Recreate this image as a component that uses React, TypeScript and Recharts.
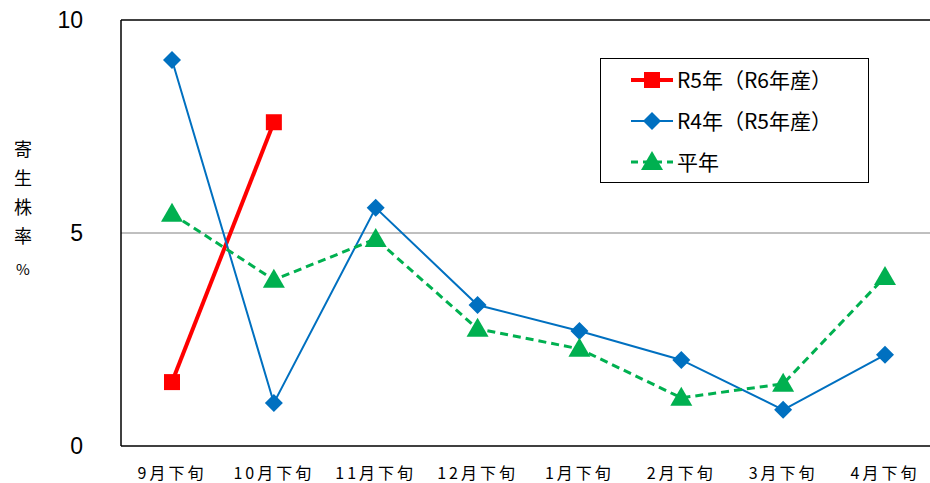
import React from "react";
import {
  LineChart, Line, XAxis, YAxis, ReferenceLine,
} from "recharts";

const categories = ["9月下旬", "10月下旬", "11月下旬", "12月下旬", "1月下旬", "2月下旬", "3月下旬", "4月下旬"];
const r5Values: (number | null)[] = [1.5, 7.6, null, null, null, null, null, null];
const r4Values = [9.06, 1.01, 5.59, 3.31, 2.7, 2.02, 0.85, 2.14];
const avgValues = [5.45, 3.9, 4.86, 2.75, 2.28, 1.13, 1.46, 3.97];
const yTicks = [0, 5, 10];

const RED = "#FF0000";
const BLUE = "#0070C0";
const GREEN = "#00B050";
const JP = "'Noto Sans CJK JP', sans-serif";
const NUM = "'Liberation Sans', Arial, sans-serif";

const data = categories.map((c, i) => ({
  cat: c,
  r5: r5Values[i],
  r4: r4Values[i],
  avg: avgValues[i],
}));

const Square = ({ cx, cy, value }: any) =>
  value == null || cx == null ? null : (
    <rect x={cx - 8} y={cy - 8} width={16} height={16} fill={RED} />
  );

const Diamond = ({ cx, cy, value }: any) =>
  value == null || cx == null ? null : (
    <polygon points={`${cx},${cy - 9} ${cx + 9},${cy} ${cx},${cy + 9} ${cx - 9},${cy}`} fill={BLUE} />
  );

const Triangle = ({ cx, cy, value }: any) =>
  value == null || cx == null ? null : (
    <polygon points={`${cx},${cy - 11} ${cx + 11},${cy + 8} ${cx - 11},${cy + 8}`} fill={GREEN} />
  );

const legendRows = [
  { label: "R5年（R6年産）", color: RED, width: 4, dash: undefined, mark: "square" },
  { label: "R4年（R5年産）", color: BLUE, width: 2, dash: undefined, mark: "diamond" },
  { label: "平年", color: GREEN, width: 3, dash: "7 5", mark: "triangle" },
];

const LegendBox = () => (
  <div
    style={{
      position: "absolute", left: 600, top: 58,
      width: 269, height: 125, boxSizing: "border-box", border: "1px solid #000",
      background: "#fff", padding: "0 0 0 28px",
    }}
  >
    {legendRows.map((r) => (
      <div key={r.label} style={{ display: "flex", alignItems: "center", height: 41 }}>
        <svg width={46} height={24}>
          <line x1={2} y1={12} x2={44} y2={12} stroke={r.color} strokeWidth={r.width} strokeDasharray={r.dash} />
          {r.mark === "square" && <rect x={15} y={4} width={16} height={16} fill={r.color} />}
          {r.mark === "diamond" && <polygon points="23,3 32,12 23,21 14,12" fill={r.color} />}
          {r.mark === "triangle" && <polygon points="23,1 34,20 12,20" fill={r.color} />}
        </svg>
        <span style={{ fontFamily: JP, fontSize: 21, color: "#000", marginLeft: 2, lineHeight: 1 }}>{r.label}</span>
      </div>
    ))}
  </div>
);

const YLabel = () => (
  <div
    style={{
      position: "absolute", left: 10, top: 134, width: 26, fontFamily: JP, fontSize: 18,
      lineHeight: "29px", textAlign: "center", color: "#000",
    }}
  >
    {["寄", "生", "株", "率"].map((c) => <div key={c}>{c}</div>)}
    <div style={{ fontSize: 15, marginTop: 4 }}>%</div>
  </div>
);

export default function App() {
  return (
    <div style={{ position: "absolute", left: 0, top: 0, width: 930, height: 483, background: "#fff", overflow: "hidden" }}>
      <LineChart width={936} height={483} data={data} margin={{ top: 20, right: 0, bottom: 0, left: 0 }}>
        <XAxis
          dataKey="cat"
          height={37}
          padding={{ left: 51, right: 51 }}
          tickLine={false}
          axisLine={{ stroke: "#000", strokeWidth: 1.5 }}
          tickMargin={16}
          tick={{ fontSize: 16, fill: "#000", fontFamily: JP, letterSpacing: 3 }}
          interval={0}
        />
        <YAxis
          domain={[0, 10]}
          ticks={yTicks}
          width={121}
          tickLine={false}
          axisLine={{ stroke: "#000", strokeWidth: 1.5 }}
          tickMargin={32}
          tick={{ fontSize: 23, fill: "#000", fontFamily: NUM }}
        />
        <ReferenceLine y={5} stroke="#808080" strokeWidth={1} />
        <ReferenceLine y={10} stroke="#000" strokeWidth={1.5} />
        <Line dataKey="r5" stroke={RED} strokeWidth={4} dot={<Square />} activeDot={false} connectNulls={false} isAnimationActive={false} />
        <Line dataKey="r4" stroke={BLUE} strokeWidth={2} dot={<Diamond />} activeDot={false} isAnimationActive={false} />
        <Line dataKey="avg" stroke={GREEN} strokeWidth={3} strokeDasharray="8 5" dot={<Triangle />} activeDot={false} isAnimationActive={false} />
      </LineChart>
      <LegendBox />
      <YLabel />
    </div>
  );
}
